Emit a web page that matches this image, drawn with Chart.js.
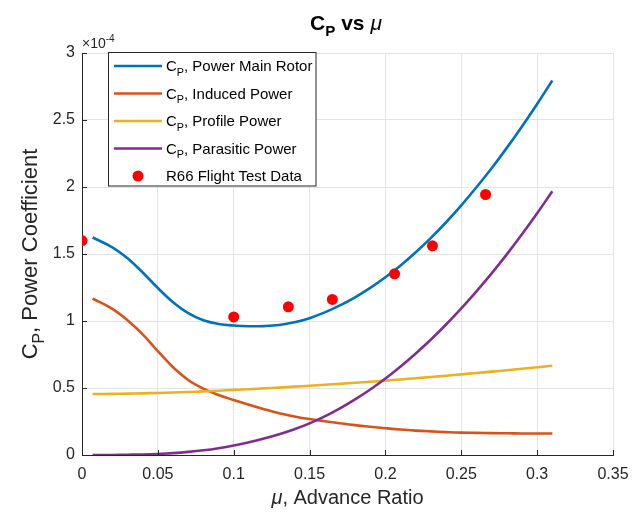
<!DOCTYPE html>
<html>
<head>
<meta charset="utf-8">
<title>CP vs mu</title>
<script src="https://cdn.jsdelivr.net/npm/chart.js@4"></script>
<style>
  html, body { margin: 0; padding: 0; background: #fff; }
  canvas { display: block; }
</style>
</head>
<body>
<canvas id="cpChart" width="640" height="516"></canvas>
<script>
// advance ratio samples for the model curves
const mu = [0.007, 0.02, 0.03, 0.04, 0.05, 0.06, 0.07, 0.08, 0.09, 0.10,
  0.11, 0.12, 0.13, 0.14, 0.15, 0.16, 0.17, 0.18, 0.19, 0.20,
  0.21, 0.22, 0.23, 0.24, 0.25, 0.26, 0.27, 0.28, 0.29, 0.30, 0.31];

// power coefficients, in units of 1e-4
const cpMainRotor = [1.623, 1.55, 1.468, 1.362, 1.246, 1.14, 1.058, 1.005, 0.978, 0.966,
  0.961, 0.962, 0.97, 0.99, 1.021, 1.064, 1.116, 1.177, 1.247, 1.326,
  1.415, 1.513, 1.62, 1.737, 1.863, 1.998, 2.14, 2.292, 2.452, 2.62, 2.795];
const cpInduced = [1.168, 1.09, 1.005, 0.90, 0.775, 0.655, 0.56, 0.495, 0.448, 0.41,
  0.375, 0.342, 0.312, 0.288, 0.268, 0.252, 0.237, 0.223, 0.211, 0.200,
  0.19, 0.182, 0.176, 0.171, 0.167, 0.165, 0.163, 0.162, 0.161, 0.161, 0.161];
const cpProfile = [0.455, 0.456, 0.458, 0.46, 0.463, 0.466, 0.47, 0.475, 0.48, 0.486,
  0.491, 0.497, 0.503, 0.51, 0.517, 0.524, 0.531, 0.539, 0.547, 0.555,
  0.564, 0.573, 0.582, 0.592, 0.602, 0.612, 0.622, 0.633, 0.644, 0.655, 0.666];
const cpParasitic = [0, 0.0005, 0.002, 0.004, 0.008, 0.014, 0.023, 0.035, 0.051, 0.071,
  0.095, 0.123, 0.155, 0.192, 0.236, 0.288, 0.348, 0.415, 0.489, 0.571,
  0.661, 0.758, 0.862, 0.974, 1.094, 1.221, 1.355, 1.497, 1.647, 1.804, 1.968];

// R66 flight test points
const testMu = [0, 0.1, 0.136, 0.165, 0.206, 0.231, 0.266];
const testCp = [1.6, 1.03, 1.106, 1.161, 1.352, 1.561, 1.944];

const xTicks = [0, 0.05, 0.1, 0.15, 0.2, 0.25, 0.3, 0.35];
const yTicks = [0, 0.5, 1, 1.5, 2, 2.5, 3];

const FONT = "'Liberation Sans', Arial, Helvetica, sans-serif";
const INK = '#262626';

const toPoints = (xs, ys) => xs.map((x, i) => ({ x, y: ys[i] }));

const series = [
  { label: [['C'], ['P', 'sub'], [', Power Main Rotor']], data: cpMainRotor, color: '#0072BD', order: 4 },
  { label: [['C'], ['P', 'sub'], [', Induced Power']], data: cpInduced, color: '#D95319', order: 3 },
  { label: [['C'], ['P', 'sub'], [', Profile Power']], data: cpProfile, color: '#EDB120', order: 2 },
  { label: [['C'], ['P', 'sub'], [', Parasitic Power']], data: cpParasitic, color: '#7E2F8E', order: 1 }
];

const datasets = series.map(s => ({
  label: s.label.map(p => p[0]).join(''),
  data: toPoints(mu, s.data),
  showLine: true,
  borderColor: s.color,
  borderWidth: 2.6,
  pointRadius: 0,
  tension: 0.4,
  fill: false,
  order: s.order
}));

datasets.push({
  label: 'R66 Flight Test Data',
  data: toPoints(testMu, testCp),
  showLine: false,
  pointRadius: 5.5,
  pointBackgroundColor: '#ff0000',
  pointBorderColor: '#ff0000',
  pointBorderWidth: 0,
  order: 0
});

// draws text pieces: [text, 'sub' | 'sup' | 'it' | undefined]
function drawRich(ctx, parts, x, y, size, weight, align) {
  const fontFor = (kind) => {
    const sz = (kind === 'sub' || kind === 'sup') ? size * 0.72 : size;
    const style = kind === 'it' ? 'italic ' : '';
    const w = kind === 'it' ? 'normal ' : weight + ' ';
    return style + w + sz + 'px ' + FONT;
  };
  let total = 0;
  parts.forEach(p => { ctx.font = fontFor(p[1]); total += ctx.measureText(p[0]).width; });
  let cx = align === 'center' ? x - total / 2 : x;
  ctx.textAlign = 'left';
  ctx.textBaseline = 'alphabetic';
  parts.forEach(p => {
    ctx.font = fontFor(p[1]);
    let dy = 0;
    if (p[1] === 'sub') dy = size * 0.3;
    if (p[1] === 'sup') dy = -size * 0.42;
    ctx.fillText(p[0], cx, y + dy);
    cx += ctx.measureText(p[0]).width;
  });
}

const decorations = {
  id: 'decorations',
  afterDraw(chart) {
    const ctx = chart.ctx;
    const area = chart.chartArea;
    const xs = chart.scales.x;
    const ys = chart.scales.y;
    ctx.save();

    // inward tick marks
    ctx.strokeStyle = INK;
    ctx.lineWidth = 1;
    ctx.beginPath();
    xTicks.forEach(v => {
      const px = Math.round(xs.getPixelForValue(v)) + 0.5;
      ctx.moveTo(px, area.bottom);
      ctx.lineTo(px, area.bottom - 5);
    });
    yTicks.forEach(v => {
      const py = Math.round(ys.getPixelForValue(v)) + 0.5;
      ctx.moveTo(area.left, py);
      ctx.lineTo(area.left + 5, py);
    });
    ctx.stroke();

    ctx.fillStyle = '#000';
    // title
    drawRich(ctx, [['C'], ['P', 'sub'], [' vs '], ['\u03bc', 'it']], 346, 30, 21, 'bold', 'center');

    ctx.fillStyle = INK;
    // exponent
    drawRich(ctx, [['\u00d710'], ['-4', 'sup']], 82, 48, 14, 'normal', 'left');

    // x axis title
    drawRich(ctx, [['\u03bc', 'it'], [', Advance Ratio']], (area.left + area.right) / 2, 504, 20, 'normal', 'center');

    // y axis title
    ctx.save();
    ctx.translate(37, (area.top + area.bottom) / 2);
    ctx.rotate(-Math.PI / 2);
    drawRich(ctx, [['C'], ['P', 'sub'], [', Power Coefficient']], 0, 0, 22, 'normal', 'center');
    ctx.restore();

    // legend
    const box = { l: 108.5, t: 52.5, r: 316, b: 186 };
    ctx.fillStyle = '#fff';
    ctx.fillRect(box.l, box.t, box.r - box.l, box.b - box.t);
    ctx.strokeStyle = INK;
    ctx.lineWidth = 1;
    ctx.strokeRect(box.l, box.t, box.r - box.l, box.b - box.t);

    const rowY = [66, 93.5, 121, 148.5, 176];
    series.forEach((s, i) => {
      ctx.strokeStyle = s.color;
      ctx.lineWidth = 2.6;
      ctx.beginPath();
      ctx.moveTo(114, rowY[i]);
      ctx.lineTo(162, rowY[i]);
      ctx.stroke();
      ctx.fillStyle = '#000';
      drawRich(ctx, s.label, 166, rowY[i] + 5, 15, 'normal', 'left');
    });
    ctx.fillStyle = '#ff0000';
    ctx.beginPath();
    ctx.arc(138, rowY[4], 5.5, 0, Math.PI * 2);
    ctx.fill();
    ctx.fillStyle = '#000';
    drawRich(ctx, [['R66 Flight Test Data']], 166, rowY[4] + 5, 15, 'normal', 'left');

    ctx.restore();
  }
};

new Chart(document.getElementById('cpChart'), {
  type: 'scatter',
  data: { datasets },
  options: {
    responsive: false,
    animation: false,
    devicePixelRatio: 1,
    layout: { padding: { left: 0, top: 53, right: 27, bottom: 0 } },
    plugins: {
      legend: { display: false },
      title: { display: false },
      tooltip: { enabled: false }
    },
    scales: {
      x: {
        type: 'linear',
        min: 0,
        max: 0.35,
        afterFit(scale) { scale.height = 61; },
        afterBuildTicks(scale) { scale.ticks = xTicks.map(v => ({ value: v })); },
        ticks: {
          callback: v => String(+v.toFixed(2)),
          color: INK,
          padding: 10,
          maxRotation: 0,
          font: { family: FONT, size: 16 }
        },
        grid: { color: '#e3e3e3', drawTicks: false },
        border: { display: true, color: INK, width: 1 }
      },
      y: {
        type: 'linear',
        min: 0,
        max: 3,
        afterFit(scale) { scale.width = 82; },
        afterBuildTicks(scale) { scale.ticks = yTicks.map(v => ({ value: v })); },
        ticks: {
          callback: v => String(v),
          color: INK,
          padding: 7,
          font: { family: FONT, size: 16 }
        },
        grid: { color: '#e3e3e3', drawTicks: false },
        border: { display: true, color: INK, width: 1 }
      }
    }
  },
  plugins: [decorations]
});
</script>
</body>
</html>
